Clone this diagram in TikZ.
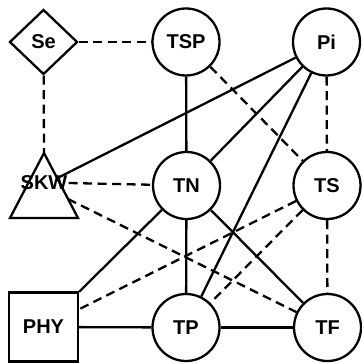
\documentclass[tikz,border=0pt]{standalone}
\usepackage{fontspec}
\setmainfont{Liberation Sans}
\usetikzlibrary{shapes.geometric}
\tikzset{
  every node/.style={font=\fontsize{20}{24}\selectfont\bfseries},
  net/.style={line width=2.3pt, line join=miter},
  circ/.style={net, draw, circle, minimum size=67pt, inner sep=0pt, fill=white},
  dia/.style={net, draw, diamond, minimum width=68pt, minimum height=65pt, inner sep=0pt, fill=white},
  sq/.style={net, draw, rectangle, minimum size=69pt, inner sep=0pt, fill=white},
  solidlink/.style={net},
  dashlink/.style={net, dash pattern=on 9pt off 5.5pt},
}
\begin{document}
\begin{tikzpicture}[x=1pt, y=-1pt]
  \useasboundingbox (0,0) rectangle (361,363);

  % triangle outline of the SKW node
  \coordinate (skwapex) at (44,153);
  \coordinate (skwbl) at (10,218);
  \coordinate (skwbr) at (78,218);
  \draw[net] (skwapex) -- (skwbr) -- (skwbl) -- cycle;
  % points on the triangle's right edge where links attach
  \coordinate (skwP) at (57.5,178);
  \coordinate (skwF) at (68,199);

  \node[dia]  (se)  at (43.5,42)  {Se};
  \node[circ] (tsp) at (186,42)   {TSP};
  \node[circ] (pi)  at (326.5,42) {Pi};
  \node[inner sep=1pt] (skw) at (44,183) {SKW};
  \node[circ] (tn)  at (186.5,185.5) {TN};
  \node[circ] (ts)  at (327,185.5) {TS};
  \node[sq]   (phy) at (43.5,327) {PHY};
  \node[circ] (tp)  at (186,327.5) {TP};
  \node[circ] (tf)  at (327.5,327.5) {TF};

  % dashed links
  \draw[dashlink] (se) -- (tsp);
  \draw[dashlink] (se) -- (skwapex);
  \draw[dashlink] (tsp) -- (ts);
  \draw[dashlink] (pi) -- (ts);
  \draw[dashlink] (skw.east) -- (tn);
  \draw[dashlink] (skwF) -- (tf);
  \draw[dashlink] (ts) -- (phy);
  \draw[dashlink] (ts) -- (tp);
  \draw[dashlink] (ts) -- (tf);

  % solid links
  \draw[solidlink] (tsp) -- (tn);
  \draw[solidlink] (pi) -- (skwP);
  \draw[solidlink] (pi) -- (tn);
  \draw[solidlink] (pi) -- (tp);
  \draw[solidlink] (tn) -- (phy);
  \draw[solidlink] (tn) -- (tp);
  \draw[solidlink] (tn) -- (tf);
  \draw[solidlink] (phy) -- (tp);
  \draw[solidlink] (tp) -- (tf);
\end{tikzpicture}
\end{document}
